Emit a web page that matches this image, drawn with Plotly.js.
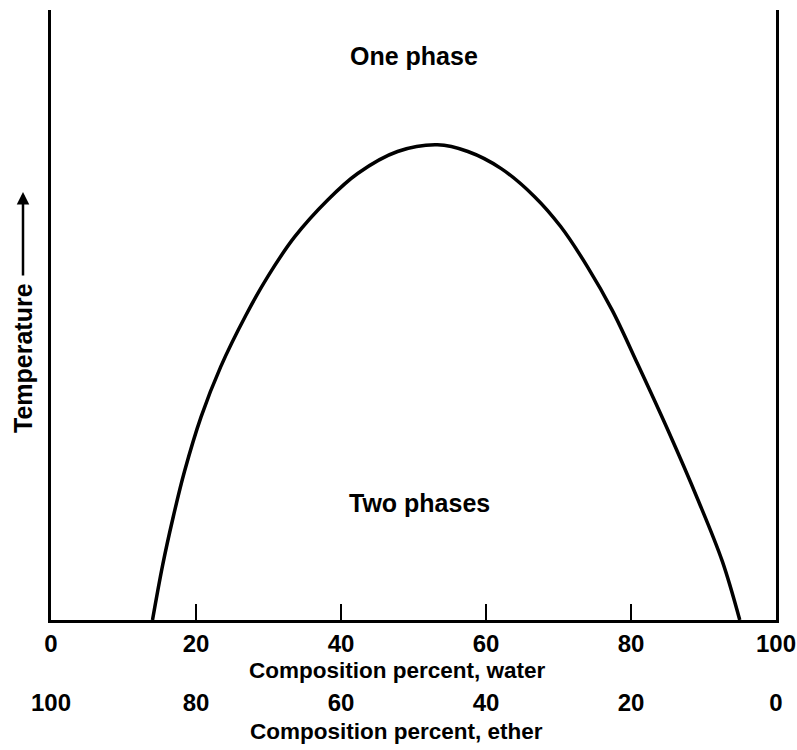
<!DOCTYPE html>
<html><head><meta charset="utf-8">
<script src="https://cdn.plot.ly/plotly-3.0.1.min.js"></script>
<style>body{margin:0;background:#fff}</style>
</head><body><div id="chart" style="width:797px;height:750px"></div>
<script>
// Coexistence (solubility) curve
const waterPct = [14.0, 15.4, 16.8, 18.4, 20.7, 23.4, 26.9, 29.9, 33.6, 38.2, 42.3, 47.8, 53.3, 57.5, 62.1, 66.7, 70.3, 74.0, 77.4, 80.9, 85.1, 89.2, 92.6, 95.0];
const temperature = [0, 9.0, 16.6, 24.3, 33.3, 41.5, 50.0, 56.3, 62.8, 68.9, 73.2, 76.8, 77.9, 76.8, 74.0, 69.4, 64.5, 57.9, 50.8, 42.0, 31.1, 19.8, 9.6, 0];
const waterTicks = [0, 20, 40, 60, 80, 100];
const etherTicks = [100, 80, 60, 40, 20, 0];
const regionLabels = ["One phase", "Two phases"];
const axisTitles = ["Composition percent, water", "Composition percent, ether", "Temperature"];

const FONT = "Liberation Sans, Arial, sans-serif";
const traces = [{
  x: waterPct, y: temperature, type: "scatter", mode: "lines",
  line: {color: "#000", width: 3.5, shape: "spline", smoothing: 1},
  xaxis: "x", yaxis: "y", hoverinfo: "skip"
}, {
  x: etherTicks, y: etherTicks.map(() => null), type: "scatter", mode: "lines",
  xaxis: "x2", yaxis: "y", showlegend: false, hoverinfo: "skip"
}];

const tickFont = {family: FONT, size: 24, weight: "bold", color: "#000"};
const titleFont = {family: FONT, size: 22.5, weight: "bold", color: "#000"};
const labelFont = {family: FONT, size: 25, weight: "bold", color: "#000"};

const layout = {
  width: 797, height: 750,
  margin: {l: 51, r: 21, t: 10, b: 0},
  paper_bgcolor: "#fff", plot_bgcolor: "#fff",
  showlegend: false,
  font: {family: FONT, color: "#000"},
  xaxis: {
    range: [0, 100], anchor: "y",
    showgrid: false, zeroline: false,
    showline: true, linecolor: "#000", linewidth: 3,
    ticks: "inside", ticklen: 16, tickwidth: 2, tickcolor: "#000",
    tickvals: waterTicks, ticktext: waterTicks.map(String),
    ticklabelstandoff: 0,
    tickfont: tickFont
  },
  xaxis2: {
    range: [100, 0], overlaying: "x", anchor: "free", position: 0.087, side: "bottom",
    showgrid: false, zeroline: false, showline: false, ticks: "",
    tickvals: etherTicks, ticktext: etherTicks.map(String),
    tickfont: tickFont
  },
  yaxis: {
    range: [0, 100], domain: [130/740, 1],
    showgrid: false, zeroline: false,
    showline: true, mirror: true, linecolor: "#000", linewidth: 3,
    ticks: "", showticklabels: false
  },
  annotations: [
    {text: regionLabels[0], x: 50.1, y: 92.5, xref: "x", yref: "y", showarrow: false,
     xanchor: "center", yanchor: "middle", font: labelFont},
    {text: regionLabels[1], x: 50.8, y: 19.2, xref: "x", yref: "y", showarrow: false,
     xanchor: "center", yanchor: "middle", font: labelFont},
    {text: axisTitles[0], x: (397-51)/725, y: (750-670)/740, xref: "paper", yref: "paper",
     showarrow: false, xanchor: "center", yanchor: "middle", font: titleFont},
    {text: axisTitles[1], x: (396-51)/725, y: (750-731)/740, xref: "paper", yref: "paper",
     showarrow: false, xanchor: "center", yanchor: "middle", font: titleFont},
    {text: axisTitles[2], textangle: -90, x: (23-51)/725, y: (750-358)/740, xref: "paper", yref: "paper",
     showarrow: false, xanchor: "center", yanchor: "middle", font: {family: FONT, size: 25, weight: "bold", color: "#000"}},
    {text: "", x: (23-51)/725, y: (750-192)/740, xref: "paper", yref: "paper",
     showarrow: true, ax: 0, ay: 85, arrowhead: 2, arrowsize: 1, arrowwidth: 2.5, arrowcolor: "#000"}
  ]
};

Plotly.newPlot("chart", traces, layout, {displayModeBar: false, staticPlot: true});
</script>
</body></html>
